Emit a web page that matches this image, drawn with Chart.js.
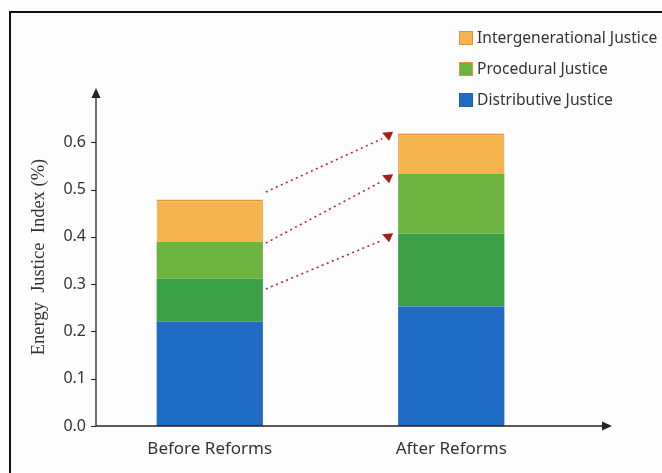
<!DOCTYPE html>
<html>
<head>
<meta charset="utf-8">
<script src="https://cdn.jsdelivr.net/npm/chart.js@4/dist/chart.umd.min.js"></script>
<style>
  html, body { margin: 0; padding: 0; background: #fff; }
  #wrap { position: relative; width: 662px; height: 473px; overflow: hidden; background: #fdfdfd; }
  #frame { position: absolute; left: 9px; top: 11px; width: 700px; height: 500px; border: 2px solid #111; box-sizing: border-box; }
  canvas { position: absolute; left: 0; top: 0; }
</style>
</head>
<body>
<div id="wrap">
  <div id="frame"></div>
  <canvas id="chart" width="662" height="473"></canvas>
</div>
<script>
// data
var categories = ["Before Reforms", "After Reforms"];
var distributive = [0.221, 0.253];
var proceduralA = [0.091, 0.154];
var proceduralB = [0.077, 0.126];
var intergenerational = [0.090, 0.086];
var yTicks = [0, 0.1, 0.2, 0.3, 0.4, 0.5, 0.6];
// dotted arrows, [from value at Before, to value at After]
var arrows = [[0.495, 0.612], [0.387, 0.522], [0.29, 0.397]];

var AXIS_SHIFT = 7; // y axis line sits a little right of the plot's left edge

var legendPlugin = {
	id: "sideLegend",
	afterDraw: function(chart){
		var ctx = chart.ctx;
		var seen = {};
		var items = [];
		var ds = chart.data.datasets;
		for (var i = ds.length - 1; i >= 0; i--) {
			if (seen[ds[i].label]) continue;
			seen[ds[i].label] = true;
			items.push(ds[i]);
		}
		ctx.save();
		ctx.font = "15.6px 'Noto Sans', sans-serif";
		ctx.textBaseline = "middle";
		for (var j = 0; j < items.length; j++) {
			var y = 38 + j * 31;
			ctx.fillStyle = items[j].legendColor || items[j].backgroundColor;
			ctx.strokeStyle = items[j].legendBorder;
			ctx.lineWidth = 1;
			ctx.fillRect(459.5, y - 6.5, 13, 13);
			ctx.strokeRect(459.5, y - 6.5, 13, 13);
			ctx.fillStyle = "#333";
			ctx.fillText(items[j].label, 477, y + 1);
		}
		ctx.restore();
	}
};

var axesPlugin = {
	id: "axisArrows",
	afterDraw: function(chart){
		var ctx = chart.ctx;
		var ys = chart.scales.y;
		var left = chart.chartArea.left + AXIS_SHIFT, bottom = ys.getPixelForValue(0);
		ctx.save();
		ctx.strokeStyle = "#222";
		ctx.fillStyle = "#222";
		ctx.lineWidth = 1.3;
		// x axis
		ctx.beginPath();
		ctx.moveTo(left, bottom);
		ctx.lineTo(604, bottom);
		ctx.stroke();
		ctx.beginPath();
		ctx.moveTo(612, bottom);
		ctx.lineTo(602, bottom - 4.5);
		ctx.lineTo(602, bottom + 4.5);
		ctx.closePath();
		ctx.fill();
		// y axis
		ctx.beginPath();
		ctx.moveTo(left, bottom);
		ctx.lineTo(left, chart.chartArea.top + 8);
		ctx.stroke();
		ctx.beginPath();
		ctx.moveTo(left, chart.chartArea.top);
		ctx.lineTo(left - 4.5, chart.chartArea.top + 10);
		ctx.lineTo(left + 4.5, chart.chartArea.top + 10);
		ctx.closePath();
		ctx.fill();
		// y tick marks
		ctx.lineWidth = 1;
		ys.ticks.forEach(function(t){
			var py = Math.round(ys.getPixelForValue(t.value)) + 0.5;
			ctx.beginPath();
			ctx.moveTo(left - 5, py);
			ctx.lineTo(left, py);
			ctx.stroke();
		});

		// dotted arrows between bars
		var meta = chart.getDatasetMeta(0);
		var b0 = meta.data[0], b1 = meta.data[1];
		var x0 = b0.x + b0.width / 2 + 3;
		var x1 = b1.x - b1.width / 2 - 10;
		ctx.strokeStyle = "#c0282a";
		ctx.fillStyle = "#a51d1d";
		ctx.lineWidth = 1.6;
		ctx.setLineDash([2, 3.5]);
		for (var i = 0; i < arrows.length; i++) {
			var y0 = ys.getPixelForValue(arrows[i][0]);
			var y1 = ys.getPixelForValue(arrows[i][1]);
			ctx.beginPath();
			ctx.moveTo(x0, y0);
			ctx.lineTo(x1 - 6, y1 + 2);
			ctx.stroke();
			// small down-pointing head, like the reference
			ctx.save();
			ctx.setLineDash([]);
			ctx.beginPath();
			ctx.moveTo(x1 - 6, y1 - 4);
			ctx.lineTo(x1 + 5, y1 - 5);
			ctx.lineTo(x1 + 1, y1 + 4);
			ctx.closePath();
			ctx.fill();
			ctx.restore();
		}
		ctx.restore();
	}
};

var ctx = document.getElementById("chart");

var chart = new Chart(ctx, {
	type: "bar",
	data: {
		labels: categories,
		datasets: [
			{
				label: "Distributive Justice",
				data: distributive,
				backgroundColor: "#1f6cc4",
				legendBorder: "#1f5fae",
				borderWidth: 0
			},
			{
				label: "Procedural Justice",
				data: proceduralA,
				backgroundColor: "#3ca046",
				legendColor: "#56ab3c",
				legendBorder: "#3d8a30",
				borderWidth: 0
			},
			{
				label: "Procedural Justice",
				data: proceduralB,
				backgroundColor: "#6db33f",
				borderWidth: 0
			},
			{
				label: "Intergenerational Justice",
				data: intergenerational,
				backgroundColor: "#f6b44f",
				borderColor: "#e3913a",
				legendBorder: "#e3913a",
				borderWidth: {top: 2, left: 1, right: 1, bottom: 0},
				borderSkipped: false
			}
		]
	},
	options: {
		responsive: false,
		animation: false,
		datasets: { bar: { barPercentage: 0.88, categoryPercentage: 0.5 } },
		layout: { padding: { left: 10, right: 90, top: 88, bottom: 0 } },
		plugins: {
			legend: { display: false },
			tooltip: { enabled: false }
		},
		scales: {
			x: {
				stacked: true,
				grid: { display: false, drawTicks: false },
				border: { display: false },
				ticks: { color: "#333", padding: 13, font: { family: "'Noto Sans', sans-serif", size: 17 } },
				afterFit: function(scale){ scale.height = 47; }
			},
			y: {
				stacked: true,
				min: 0,
				max: 0.715,
				afterBuildTicks: function(scale){
					scale.ticks = yTicks.map(function(v){ return { value: v }; });
				},
				afterFit: function(scale){ scale.width = 79; },
				grid: { display: false, drawTicks: false },
				border: { display: false },
				ticks: {
					color: "#333",
					padding: 3,
					font: { family: "'Noto Sans', sans-serif", size: 16 },
					callback: function(v){ return Number(v).toFixed(1); }
				},
				title: {
					display: true,
					text: "Energy  Justice  Index (%)",
					color: "#333",
					padding: { top: 18, bottom: 2 },
					font: { family: "'Liberation Serif', serif", size: 18.5 }
				}
			}
		}
	},
	plugins: [legendPlugin, axesPlugin]
});
</script>
</body>
</html>
